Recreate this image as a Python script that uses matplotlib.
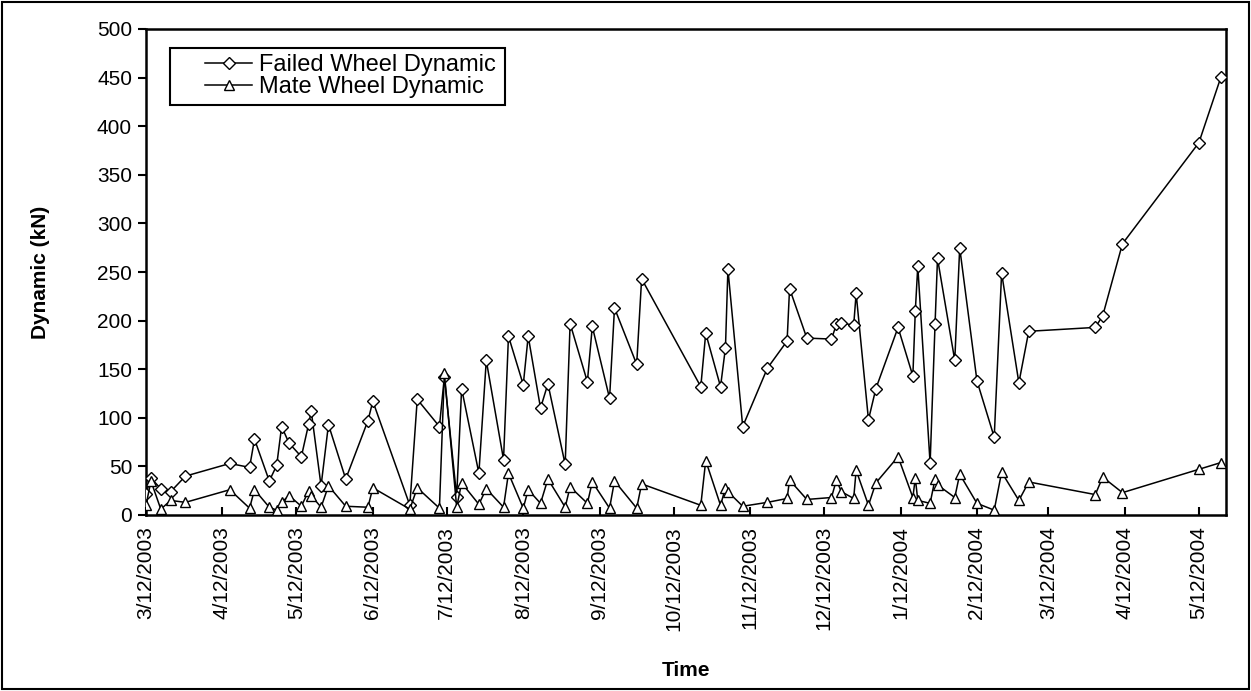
import matplotlib
matplotlib.use("Agg")
import matplotlib.pyplot as plt
from matplotlib.patches import Rectangle
import pandas as pd

plt.rcParams['font.family'] = ['Liberation Sans', 'DejaVu Sans']

start_date = "2003-03-12"
days_since_start = [0, 2, 6, 10, 16, 34, 42, 44, 50, 53, 55, 58, 63, 66, 67, 71, 74, 81,
                    90, 92, 107, 110, 119, 121, 126, 128, 135, 138, 145, 147, 153, 155,
                    160, 163, 170, 172, 179, 181, 188, 190, 199, 201, 225, 227, 233, 235,
                    236, 242, 252, 260, 261, 268, 278, 280, 282, 287, 288, 293, 296, 305,
                    311, 312, 313, 318, 320, 321, 328, 330, 337, 344, 347, 354, 358, 385,
                    388, 396, 427, 436]
failed_dynamic = [22, 38, 27, 24, 40, 53, 49, 78, 35, 51, 91, 74, 60, 94, 107, 30, 93, 37,
                  97, 117, 10, 119, 91, 142, 19, 130, 43, 159, 57, 184, 134, 184,
                  110, 135, 52, 197, 137, 194, 120, 213, 155, 243, 132, 187, 132, 172,
                  253, 91, 151, 179, 233, 182, 181, 196, 198, 195, 228, 98, 130, 193,
                  143, 210, 256, 53, 196, 264, 159, 275, 138, 80, 249, 136, 189, 193,
                  205, 279, 383, 451]
mate_dynamic = [10, 35, 6, 15, 13, 26, 7, 26, 8, 5, 13, 20, 9, 25, 20, 8, 30, 9,
                8, 28, 6, 28, 7, 146, 8, 33, 11, 27, 8, 43, 7, 26,
                12, 37, 8, 29, 12, 34, 7, 35, 7, 32, 10, 56, 10, 28,
                24, 9, 13, 17, 36, 16, 18, 36, 24, 17, 46, 10, 33, 60,
                18, 38, 15, 12, 37, 31, 18, 42, 12, 5, 44, 15, 34, 21,
                39, 23, 47, 54]
tick_dates = ["2003-03-12", "2003-04-12", "2003-05-12", "2003-06-12", "2003-07-12",
              "2003-08-12", "2003-09-12", "2003-10-12", "2003-11-12", "2003-12-12",
              "2004-01-12", "2004-02-12", "2004-03-12", "2004-04-12", "2004-05-12"]
tick_labels = ["3/12/2003", "4/12/2003", "5/12/2003", "6/12/2003", "7/12/2003",
               "8/12/2003", "9/12/2003", "10/12/2003", "11/12/2003", "12/12/2003",
               "1/12/2004", "2/12/2004", "3/12/2004", "4/12/2004", "5/12/2004"]
y_ticks = [0, 50, 100, 150, 200, 250, 300, 350, 400, 450, 500]

assert len(days_since_start) == len(failed_dynamic) == len(mate_dynamic)

t0 = pd.Timestamp(start_date)
tick_pos = [(pd.Timestamp(d) - t0).days for d in tick_dates]

FS = 15
LEG_FS = 17
W, H = 1251, 691
fig = plt.figure(figsize=(W / 100, H / 100), dpi=100)
fig.patch.set_facecolor('white')
fig.patches.append(Rectangle((2 / W, 2 / H), 1 - 4 / W, 1 - 4 / H, transform=fig.transFigure,
                             fill=False, edgecolor='black', linewidth=1.5))

AX_L, AX_R, AX_T, AX_B = 146, 1226, 29, 515
ax = fig.add_axes([AX_L / W, 1 - AX_B / H, (AX_R - AX_L) / W, (AX_B - AX_T) / H])

ax.plot(days_since_start, failed_dynamic, color='black', linewidth=1.1, marker='D',
        markersize=6, markerfacecolor='white', markeredgecolor='black',
        markeredgewidth=1.0, label='Failed Wheel Dynamic', zorder=3)
ax.plot(days_since_start, mate_dynamic, color='black', linewidth=1.1, marker='^',
        markersize=7.5, markerfacecolor='white', markeredgecolor='black',
        markeredgewidth=1.0, label='Mate Wheel Dynamic', zorder=3)

ax.set_xlim(0, 438)
ax.set_ylim(0, 500)
ax.set_yticks(y_ticks)
ax.set_yticklabels([str(v) for v in y_ticks], fontsize=FS)
ax.set_xticks(tick_pos)
ax.set_xticklabels(tick_labels, rotation=90, fontsize=FS)
ax.tick_params(axis='y', direction='out', length=6, width=1.5, pad=4)
ax.tick_params(axis='x', direction='in', length=6, width=1.5, pad=8)
for s in ax.spines.values():
    s.set_linewidth(1.8)
    s.set_color('black')

ax.set_ylabel('Dynamic (kN)', fontsize=FS, fontweight='bold', labelpad=34)
ax.set_xlabel('Time', fontsize=FS, fontweight='bold', labelpad=22)

# legend (frame drawn separately to get Excel-like left padding)
leg_x = (205 - AX_L) / (AX_R - AX_L)
leg_y = (AX_B - 54) / (AX_B - AX_T)
leg = ax.legend(loc='upper left', bbox_to_anchor=(leg_x, leg_y), fontsize=LEG_FS,
                frameon=False, handlelength=2.0, borderpad=0,
                labelspacing=0.0, handletextpad=0.3, borderaxespad=0)
leg.set_zorder(6)
fig.canvas.draw()
bb = leg.get_window_extent()
right_px = bb.x1 + 9
box_top, box_bot, box_left = 48, 105, 170
frame = Rectangle((box_left / W, 1 - box_bot / H), (right_px - box_left) / W,
                  (box_bot - box_top) / H, transform=fig.transFigure,
                  facecolor='white', edgecolor='black', linewidth=1.5,
                  clip_on=False, zorder=5)
ax.add_artist(frame)

fig.savefig('out.png', dpi=100)
